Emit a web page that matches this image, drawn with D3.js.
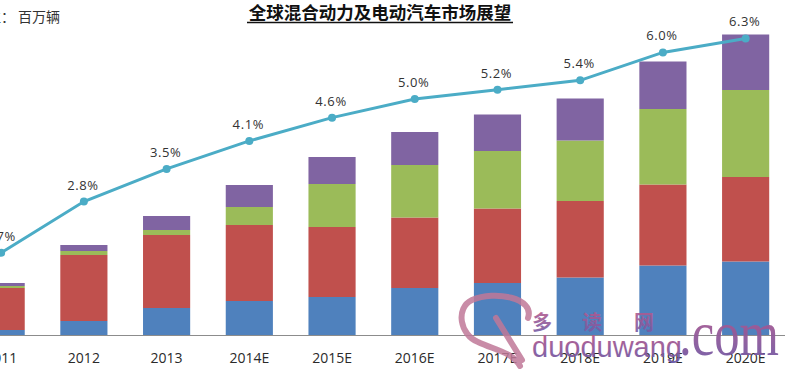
<!DOCTYPE html>
<html><head><meta charset="utf-8">
<script src="https://cdn.jsdelivr.net/npm/d3@7"></script>
<style>
html,body{margin:0;padding:0;background:#fff;overflow:hidden;}
svg{display:block;}
</style></head>
<body>
<svg id="chart" width="785" height="369"></svg>
<script>
// ---- data ----
const categories = ["2011","2012","2013","2014E","2015E","2016E","2017E","2018E","2019E","2020E"];
// stacked series (million vehicles, estimated), bottom to top
const seriesBlue   = [0.10, 0.28, 0.54, 0.68, 0.76, 0.94, 1.04, 1.15, 1.39, 1.47];
const seriesRed    = [0.84, 1.32, 1.46, 1.52, 1.40, 1.41, 1.49, 1.53, 1.62, 1.69];
const seriesGreen  = [0.04, 0.08, 0.10, 0.36, 0.86, 1.05, 1.15, 1.21, 1.51, 1.74];
const seriesPurple = [0.06, 0.12, 0.28, 0.44, 0.54, 0.66, 0.73, 0.84, 0.95, 1.11];
// market share line (%)
const sharePct = [1.7, 2.8, 3.5, 4.1, 4.6, 5.0, 5.2, 5.4, 6.0, 6.3];
const shareLabels = ["1.7%","2.8%","3.5%","4.1%","4.6%","5.0%","5.2%","5.4%","6.0%","6.3%"];
const seriesKeys = ["blue","red","green","purple"];
const seriesColors = ["#4F81BD","#C0504D","#9BBB59","#8064A2"];
const titleText = "全球混合动力及电动汽车市场展望";
const unitPrefix = "单位：";
const unitText = "百万辆";

// ---- build table ----
const table = categories.map((c,i)=>({cat:c, blue:seriesBlue[i], red:seriesRed[i], green:seriesGreen[i], purple:seriesPurple[i], share:sharePct[i], label:shareLabels[i]}));

const svg = d3.select("#chart");
const W = 785, H = 369;
const baseY = 335;

const x = d3.scaleBand().domain(categories).range([-40.2, 787]).paddingInner(0.43).paddingOuter(0.215);
const y = d3.scaleLinear().domain([0, 6.6]).range([baseY, 5]);
const yp = d3.scaleLinear().domain([0, 7]).range([332, 332 - 7*46.6]);
const color = d3.scaleOrdinal().domain(seriesKeys).range(seriesColors);

const stack = d3.stack().keys(seriesKeys)(table);

// bars
svg.append("g").selectAll("g").data(stack).join("g")
  .attr("fill", d=>color(d.key))
  .selectAll("rect").data(d=>d).join("rect")
  .attr("x", d=>x(d.data.cat))
  .attr("width", x.bandwidth())
  .attr("y", d=>y(d[1]))
  .attr("height", d=>y(d[0]) - y(d[1]));

// baseline
svg.append("line").attr("x1",0).attr("x2",W).attr("y1",baseY+0.5).attr("y2",baseY+0.5)
  .attr("stroke","#8c8c8c").attr("stroke-width",1);

// axis labels
const ax = svg.append("g").attr("transform",`translate(0,${baseY})`)
  .call(d3.axisBottom(x).tickSize(0).tickPadding(18));
ax.select(".domain").remove();
ax.selectAll("text").attr("font-family","'Open Sans', sans-serif").attr("font-size",14).attr("fill","#2a2a2a");

// share line
const cx = d=>x(d.cat)+x.bandwidth()/2;
svg.append("path").datum(table)
  .attr("fill","none").attr("stroke","#4BACC6").attr("stroke-width",3)
  .attr("d", d3.line().x(cx).y(d=>yp(d.share)));
svg.append("g").selectAll("circle").data(table).join("circle")
  .attr("cx",cx).attr("cy",d=>yp(d.share)).attr("r",4).attr("fill","#4BACC6");
svg.append("g").selectAll("text").data(table).join("text")
  .attr("x",d=>cx(d)-1).attr("y",d=>yp(d.share)-12)
  .attr("text-anchor","middle").attr("font-family","'Open Sans', sans-serif")
  .attr("font-size",13).attr("letter-spacing","0.6px").attr("fill","#333")
  .text(d=>d.label);

// title
svg.append("text").attr("x",380).attr("y",19).attr("text-anchor","middle")
  .attr("font-family","'Noto Sans CJK SC', sans-serif").attr("font-weight","bold")
  .attr("font-size",17.5).attr("fill","#111").text(titleText);
svg.append("line").attr("x1",247).attr("x2",513).attr("y1",22.5).attr("y2",22.5)
  .attr("stroke","#111").attr("stroke-width",1.3);

// unit label (cut off at left edge)
const ut = svg.append("text").attr("y",22)
  .attr("font-family","'Noto Sans CJK SC', sans-serif").attr("font-size",14).attr("fill","#333");
ut.append("tspan").attr("x",-27).text(unitPrefix);
ut.append("tspan").attr("x",18).text(unitText);

// watermark
const defs = svg.append("defs");
const g1 = defs.append("linearGradient").attr("id","wmg").attr("x1",0).attr("y1",0).attr("x2",0).attr("y2",1);
g1.append("stop").attr("offset","0%").attr("stop-color","#c05a8a");
g1.append("stop").attr("offset","100%").attr("stop-color","#6a5aa8");
const wm = svg.append("g");
wm.append("path")
  .attr("d","M528,318 C535,298 495,290 472,300 C455,308 460,335 478,342 C495,350 512,352 520,366 M496,318 L522,360")
  .attr("fill","none").attr("stroke","#c07898").attr("stroke-width",6).attr("stroke-linecap","round").attr("opacity",0.85);
wm.append("text").attr("x",532).attr("y",357).attr("font-family","'Liberation Sans', sans-serif")
  .attr("font-size",29).attr("fill","url(#wmg)").attr("opacity",0.95).text("duoduwang");
wm.append("text").attr("x",679).attr("y",355).attr("font-family","'Liberation Serif', serif")
  .attr("font-size",64).attr("textLength",100).attr("lengthAdjust","spacingAndGlyphs")
  .attr("fill","url(#wmg)").attr("opacity",0.95).text(".com");
wm.selectAll("text.cn").data(["多","读","网"]).join("text").attr("class","cn")
  .attr("x",(d,i)=>[532,582,634][i]).attr("y",330)
  .attr("font-family","'Noto Sans CJK SC', sans-serif").attr("font-size",20).attr("font-weight","bold")
  .attr("fill","url(#wmg)").attr("opacity",0.9).text(d=>d);
</script>
</body></html>
